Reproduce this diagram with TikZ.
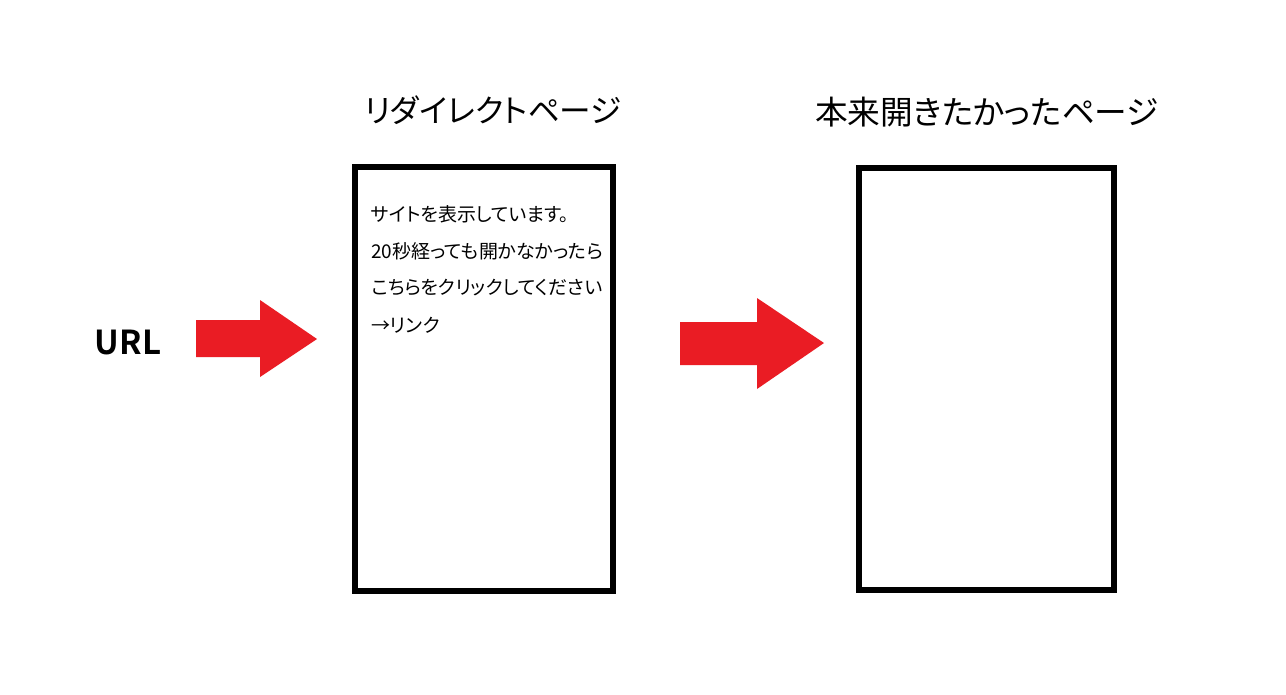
\documentclass[tikz,border=0pt]{standalone}
\usepackage{fontspec}
\setmainfont{Noto Sans CJK JP}[CharacterWidth=AlternateProportional]
\newfontfamily\jpbold{Noto Sans CJK JP Bold}[CharacterWidth=AlternateProportional]
\definecolor{arrowred}{RGB}{234,28,36}
\begin{document}
\begin{tikzpicture}[x=0.02cm,y=-0.02cm,
  page/.style={draw=black,line width=3.4pt,fill=white},
  title/.style={inner sep=0pt},
  body/.style={font=\fontsize{10.8pt}{13pt}\selectfont,inner sep=0pt,anchor=west},
  blockarrow/.style={fill=arrowred,draw=none}]
\useasboundingbox (0,0) rectangle (1286,694);
\fill[white] (0,0) rectangle (1286,694);
% URL
\node[font=\jpbold\fontsize{18.8pt}{22pt}\selectfont,inner sep=0pt] (url) at (128,342) {URL};
% arrow 1
\fill[blockarrow] (196,320) -- (260,320) -- (260,300) -- (317,339) -- (260,377) -- (260,357) -- (196,357) -- cycle;
% box 1
\draw[page] (355,167) rectangle (613,591);
\node[title,font=\fontsize{18pt}{22pt}\selectfont] (t1) at (493,110) {リダイレクトページ};
\node[body] (l1) at (371,214) {サイトを表示しています。};
\node[body] (l2) at (371,251) {20秒経っても開かなかったら};
\node[body] (l3) at (371,288) {こちらをクリックしてください};
\node[body] (l4) at (371,325) {→リンク};
% arrow 2
\fill[blockarrow] (680,322) -- (757,322) -- (757,298) -- (824,343) -- (757,389) -- (757,365) -- (680,365) -- cycle;
% box 2
\draw[page] (859,168) rectangle (1114,590);
\node[title,font=\fontsize{18.6pt}{22pt}\selectfont] (t2) at (987,112) {本来開きたかったページ};
\end{tikzpicture}
\end{document}
